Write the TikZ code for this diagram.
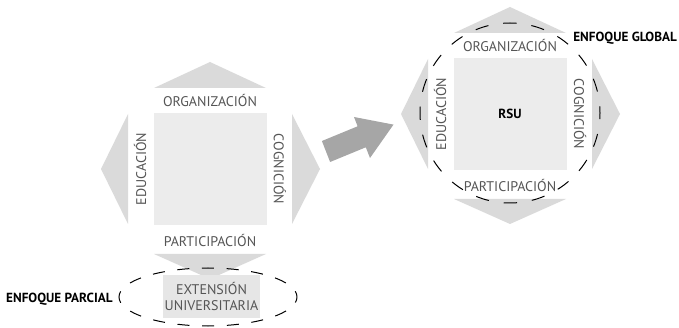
\documentclass[tikz,border=0pt]{standalone}
\usepackage{fontspec}
\setmainfont{PT Sans}
\usetikzlibrary{shapes.geometric}
\definecolor{trigray}{HTML}{DADADA}
\definecolor{sqgray}{HTML}{ECECEC}
\definecolor{extgray}{HTML}{E6E6E6}
\definecolor{arrowgray}{HTML}{A6A6A6}
\definecolor{lblgray}{HTML}{555555}
\tikzset{
  tri/.style={fill=trigray, draw=none},
  sqbox/.style={fill=sqgray, draw=none, minimum width=113pt, minimum height=112pt, inner sep=0pt},
  lbl/.style={font=\fontsize{14}{15.5}\selectfont, text=lblgray, inner sep=0pt},
  boldlbl/.style={font=\fontsize{13.2}{15}\selectfont\bfseries, text=black, inner sep=0pt},
  circdash/.style={draw=black, line width=1pt, dash pattern=on 13.3pt off 15pt, dash phase=6.65pt},
  elldash/.style={draw=black, line width=1pt, dash pattern=on 12pt off 12.7pt, dash phase=6pt},
  quad/.pic={
    \fill[tri] (-56,-81) -- (56,-81) -- (0,-107) -- cycle;
    \fill[tri] (-56,85) -- (56,85) -- (0,110) -- cycle;
    \fill[tri] (-82,-55) -- (-82,55) -- (-109,0) -- cycle;
    \fill[tri] (82,-55) -- (82,55) -- (110,0) -- cycle;
    \node[sqbox] (-sq) at (0,0) {};
    \node[lbl] (-top) at (0,-69) {ORGANIZACIÓN};
    \node[lbl] (-bot) at (0,71) {PARTICIPACIÓN};
    \node[lbl, rotate=90] (-left) at (-70,0) {EDUCACIÓN};
    \node[lbl, rotate=-90] (-right) at (70,0) {COGNICIÓN};
  }
}
\begin{document}
\begin{tikzpicture}[x=1pt, y=-1pt]
\useasboundingbox (0,0) rectangle (679,328);
% left diagram
\pic (L) at (210,169) {quad};
\node[fill=extgray, minimum width=97pt, minimum height=43pt, align=center, lbl] (ext) at (211.5,296.5) {EXTENSIÓN\\UNIVERSITARIA};
\node[elldash, ellipse, minimum width=178pt, minimum height=58pt, inner sep=0pt] (parcial) at (208,297) {};
\node[boldlbl, anchor=west] (lparcial) at (6,299) {ENFOQUE PARCIAL};
% big arrow
\fill[arrowgray] (321.9,141.0) -- (357.6,126.3) -- (354,117) -- (393.5,124.6) -- (370,158) -- (365.8,147.3) -- (330.1,162) -- cycle;
% right diagram
\pic (R) at (510,114) {quad};
\node[boldlbl] (rsu) at (R-sq) {RSU};
\node[circdash, circle, minimum size=180pt, inner sep=0pt] (global) at (510,113) {};
\node[boldlbl, anchor=east] (lglobal) at (677,38) {ENFOQUE GLOBAL};
\end{tikzpicture}
\end{document}
